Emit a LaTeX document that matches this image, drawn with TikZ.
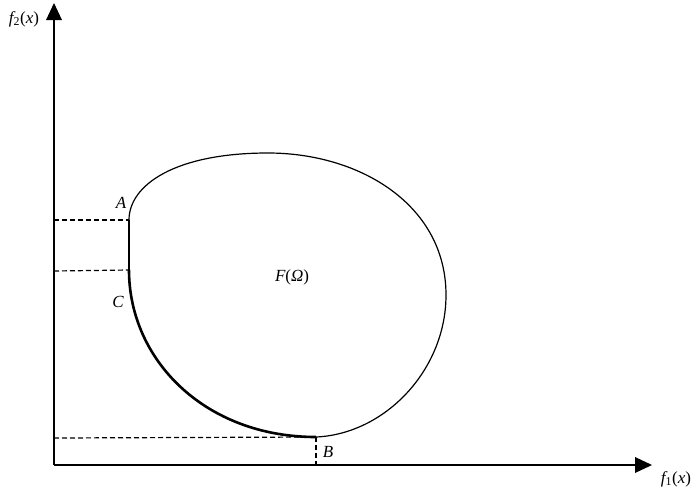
\documentclass[tikz,border=0pt]{standalone}
\usepackage{fontspec}
\setmainfont{Liberation Serif}
\begin{document}
\begin{tikzpicture}[x=1pt,y=-1pt,
  axis/.style={line width=1.5pt},
  tipfill/.style={fill=black},
  thinline/.style={line width=1.2pt},
  thickline/.style={line width=2.6pt},
  dashline/.style={line width=1.2pt,dash pattern=on 5pt off 3pt},
  lbl/.style={font=\fontsize{17}{19}\selectfont\itshape,inner sep=0pt}]
\useasboundingbox (0,0) rectangle (698,491);
\coordinate (O) at (54,465);
\coordinate (Ytip) at (54,3);
\coordinate (Xtip) at (652,465);
\coordinate (A) at (129,220);
\coordinate (C) at (129,270);
\coordinate (B) at (316,437);
\coordinate (T) at (268,153);
\coordinate (R) at (446,295);
\coordinate (YA) at (54,220);
\coordinate (YC) at (54,271);
\coordinate (YB) at (54,438);
\coordinate (XB) at (316,465);
% axes
\draw[axis] (O) -- (54,18);
\draw[axis] (O) -- (636,465);
\fill[tipfill] (Ytip) -- (46,20) -- (62,20) -- cycle;
\fill[tipfill] (Xtip) -- (635,457) -- (635,473) -- cycle;
% dashed
\draw[dashline] (YA) -- (A);
\draw[dashline] (YC) -- (C);
\draw[dashline] (YB) -- (B);
\draw[dashline] (B) -- (XB);
% boundary
\draw[thinline] (B) .. controls (385,434) and (446,370) .. (R)
  .. controls (446,205) and (360,153) .. (T)
  .. controls (175,153) and (129,185) .. (A);
\draw[thickline] (A) -- (C);
\draw[thickline] (C) .. controls (129,360) and (205,437) .. (B);
% labels
\node[lbl] (lA) at (121,203) {A};
\node[lbl] (lC) at (118,302) {C};
\node[lbl] (lB) at (328,452) {B};
\node[lbl] (lF) at (292,277) {F\upshape(\itshape Ω\upshape)};
\node[lbl] (ly) at (24,19) {f\upshape\textsubscript{2}(\itshape x\upshape)};
\node[lbl] (lx) at (676,479) {f\upshape\textsubscript{1}(\itshape x\upshape)};
\end{tikzpicture}
\end{document}
